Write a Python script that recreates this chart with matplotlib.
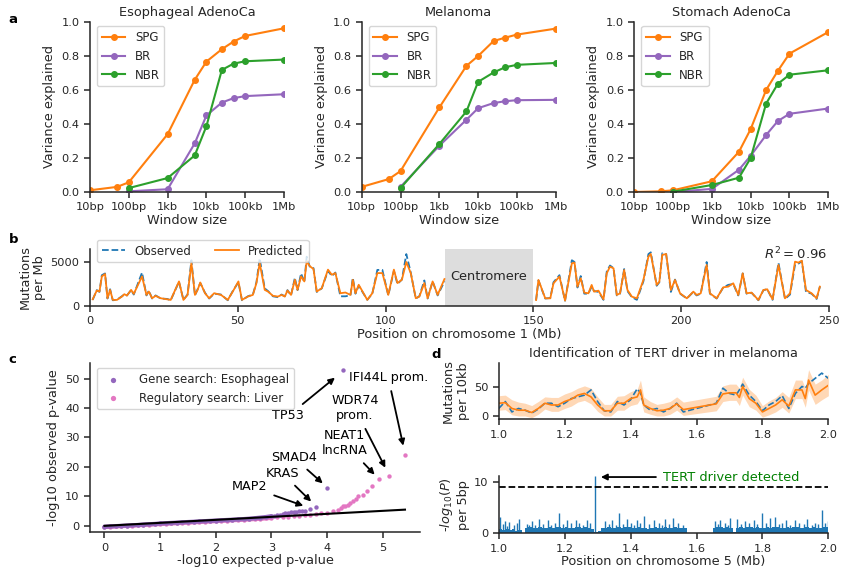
import numpy as np
import matplotlib
matplotlib.use("Agg")
import matplotlib.pyplot as plt

plt.rcParams.update({
    "font.family": ["DejaVu Sans"],
    "axes.edgecolor": "0.15",
    "axes.labelcolor": "0.15",
    "text.color": "0.15",
    "xtick.color": "0.15",
    "ytick.color": "0.15",
    "axes.linewidth": 1.1,
    "xtick.major.width": 1.1,
    "ytick.major.width": 1.1,
    "xtick.major.size": 4,
    "ytick.major.size": 4,
    "xtick.labelsize": 8.2,
    "ytick.labelsize": 8.2,
    "axes.labelsize": 9.3,
    "axes.titlesize": 9.3,
    "legend.fontsize": 8.5,
    "axes.spines.top": False,
    "axes.spines.right": False,
    "legend.edgecolor": "0.8",
})

C_BLUE, C_ORANGE, C_GREEN, C_PURPLE, C_PINK = "#1f77b4", "#ff7f0e", "#2ca02c", "#9467bd", "#e377c2"

# ---------------- panel a data ----------------
windows = [10, 50, 100, 1e3, 5e3, 1e4, 2.5e4, 5e4, 1e5, 1e6]
windows_br = [100, 1e3, 5e3, 1e4, 2.5e4, 5e4, 1e5, 1e6]
window_ticks = [10, 100, 1e3, 1e4, 1e5, 1e6]
window_labels = ["10bp", "100bp", "1kb", "10kb", "100kb", "1Mb"]
titles_a = ["Esophageal AdenoCa", "Melanoma", "Stomach AdenoCa"]
spg = [[0.01, 0.03, 0.057, 0.34, 0.66, 0.767, 0.84, 0.885, 0.918, 0.963],
       [0.03, 0.076, 0.123, 0.497, 0.742, 0.80, 0.888, 0.908, 0.926, 0.961],
       [0.0, 0.004, 0.01, 0.063, 0.237, 0.37, 0.60, 0.712, 0.814, 0.941]]
br = [[0.004, 0.016, 0.286, 0.45, 0.526, 0.552, 0.564, 0.575],
      [0.03, 0.272, 0.425, 0.493, 0.523, 0.534, 0.54, 0.542],
      [0.0, 0.018, 0.131, 0.213, 0.335, 0.417, 0.46, 0.491]]
nbr = [[0.023, 0.082, 0.215, 0.387, 0.718, 0.755, 0.769, 0.779],
       [0.023, 0.282, 0.474, 0.648, 0.703, 0.734, 0.748, 0.759],
       [0.002, 0.041, 0.084, 0.20, 0.52, 0.636, 0.69, 0.716]]

# ---------------- panel b data ----------------
b_pos_left = [0.9, 2.3, 3.2, 4.0, 5.1, 5.9, 6.8, 7.7, 9.1, 10.8, 11.6, 12.5, 13.9, 14.8, 17.6, 19.1, 19.9, 21.0,
              22.2, 23.9, 26.1, 27.3, 30.1, 31.6, 33.0, 34.3, 35.5, 36.4, 37.3, 38.9, 40.3, 42.0, 44.3, 46.6,
              48.3, 50.2, 51.4, 53.4, 55.1, 56.3, 57.4, 59.1, 60.2, 61.9, 63.6, 64.8, 65.9, 66.8, 68.0, 69.3,
              70.2, 71.4, 72.5, 73.3, 74.4, 75.6, 76.7, 78.4, 80.5, 81.8, 83.0, 84.7, 86.4, 88.1, 88.9, 89.8,
              90.9, 93.8, 95.5, 97.2, 98.9, 100.9, 102.8, 104.0, 105.5, 107.0, 108.5, 110.2, 111.4, 113.1,
              114.2, 115.9, 117.6, 119.9]
b_pred_left = [760, 1760, 1640, 3360, 3630, 880, 1830, 690, 690, 1070, 1340, 1180, 1830, 1380, 3360, 1260, 1640,
               880, 1150, 880, 760, 690, 2790, 690, 1260, 4890, 1260, 1830, 2670, 1450, 880, 1450, 1260, 690,
               1640, 2790, 690, 1070, 1260, 2600, 4890, 1830, 1640, 1150, 1070, 1260, 1070, 1760, 1260, 2980,
               1830, 3360, 2790, 5080, 4510, 4200, 1640, 2020, 4130, 3550, 3740, 1450, 1530, 1260, 2980, 1450,
               2410, 690, 1450, 3740, 3740, 1260, 4130, 2600, 2980, 5000, 3740, 880, 1070, 2600, 880, 2790,
               1260, 3060]
b_obs_left = [700, 1800, 1600, 3500, 3700, 850, 1900, 650, 700, 1100, 1300, 1200, 1800, 1300, 3800, 1200, 1750,
              850, 1200, 850, 800, 650, 2750, 700, 1300, 5200, 1200, 1900, 2600, 1500, 850, 1400, 1300, 650,
              1700, 2700, 650, 1100, 1300, 2700, 5400, 2000, 1700, 1100, 1000, 1300, 1100, 1800, 1200, 3200,
              1800, 3700, 2700, 5600, 4400, 4300, 1600, 2000, 4000, 3400, 3800, 1100, 1100, 1200, 3200, 1400,
              2300, 700, 1400, 4100, 4100, 1200, 4000, 2500, 3000, 5900, 3800, 850, 1100, 2900, 850, 2800,
              1200, 2800]
b_pos_right = [150.9, 151.7, 154.0, 155.7, 156.8, 158.8, 160.7, 163.0, 163.9, 164.9, 166.0, 167.2, 168.6, 169.7,
               170.5, 172.0, 173.7, 174.8, 175.9, 177.1, 178.2, 179.3, 180.7, 181.8, 183.3, 185.0, 187.2, 188.9,
               189.7, 191.7, 192.6, 193.6, 194.9, 196.5, 197.9, 199.6, 201.9, 204.1, 205.2, 206.6, 208.6, 209.7,
               212.0, 214.2, 215.9, 217.6, 219.3, 220.8, 222.1, 223.8, 226.1, 227.8, 229.1, 230.9, 232.9, 235.1,
               236.8, 238.5, 239.6, 240.8, 242.2, 244.1, 245.8, 246.9]
b_pred_right = [680, 2960, 870, 870, 2580, 3340, 610, 4850, 4930, 2200, 3150, 1520, 1440, 2390, 1630, 1740, 760,
                3710, 4470, 4280, 1250, 1440, 4090, 1820, 1060, 870, 2960, 5610, 5910, 2390, 2770, 5800, 5910,
                1820, 2960, 1440, 870, 1630, 1250, 1440, 4660, 1440, 870, 2120, 2200, 2580, 1250, 3710, 1440,
                1520, 680, 1820, 1900, 760, 4660, 870, 1440, 5040, 4930, 5150, 1820, 1440, 870, 2200]
b_obs_right = [650, 2900, 850, 900, 2700, 3500, 600, 5200, 5000, 2100, 3400, 1400, 1400, 2200, 1700, 1600, 700,
               3900, 4600, 4300, 1200, 1400, 4200, 1700, 1000, 700, 2800, 5900, 6100, 2300, 2700, 6000, 5900,
               1600, 3000, 1400, 850, 1600, 1200, 1400, 5000, 1400, 850, 2100, 2400, 2500, 1200, 3700, 1400,
               1500, 650, 1800, 1900, 700, 4900, 800, 1300, 4700, 4800, 5100, 1600, 1400, 800, 2200]
centromere = [120.0, 150.0]
r2_value = 0.96

# ---------------- panel c data ----------------
gene_exp = [0.0, 0.1, 0.2, 0.3, 0.4, 0.5, 0.6, 0.7, 0.8, 0.9, 1.0, 1.1, 1.2, 1.3, 1.4, 1.5, 1.6, 1.7, 1.8, 1.9,
            2.0, 2.1, 2.2, 2.3, 2.4, 2.5, 2.6, 2.7, 2.8, 2.9, 3.0, 3.05, 3.1, 3.15, 3.2, 3.25, 3.3, 3.35, 3.4,
            3.45, 3.5, 3.55, 3.6, 3.7, 3.8, 4.0, 4.29]
gene_obs = [-0.3, -0.2, -0.1, 0.0, 0.1, 0.2, 0.3, 0.45, 0.55, 0.65, 0.8, 0.9, 1.0, 1.1, 1.2, 1.3, 1.4, 1.5, 1.6,
            1.7, 1.8, 1.9, 2.0, 2.1, 2.2, 2.3, 2.45, 2.6, 2.8, 3.0, 3.3, 3.45, 3.6, 3.8, 4.0, 4.2, 4.4, 4.6, 4.7,
            4.8, 4.9, 5.0, 5.1, 5.6, 6.4, 12.9, 53.0]
reg_exp = [0.0, 0.1, 0.2, 0.3, 0.4, 0.5, 0.6, 0.7, 0.8, 0.9, 1.0, 1.1, 1.2, 1.3, 1.4, 1.5, 1.6, 1.7, 1.8, 1.9,
           2.0, 2.1, 2.2, 2.3, 2.4, 2.5, 2.6, 2.7, 2.8, 2.9, 3.0, 3.1, 3.2, 3.3, 3.4, 3.5, 3.6, 3.7, 3.8, 3.9,
           4.0, 4.1, 4.2, 4.25, 4.29, 4.33, 4.38, 4.42, 4.47, 4.52, 4.56, 4.64, 4.71, 4.81, 4.93, 5.11, 5.40]
reg_obs = [-0.4, -0.3, -0.2, -0.1, 0.0, 0.1, 0.2, 0.3, 0.4, 0.5, 0.6, 0.7, 0.8, 0.9, 1.0, 1.1, 1.2, 1.3, 1.4,
           1.5, 1.6, 1.7, 1.8, 1.9, 2.0, 2.1, 2.2, 2.3, 2.4, 2.55, 2.7, 2.85, 3.0, 3.1, 3.25, 3.4, 3.6, 3.8, 4.0,
           4.2, 4.4, 5.0, 5.3, 6.0, 6.6, 6.9, 7.2, 7.6, 8.4, 9.0, 10.3, 10.4, 11.9, 13.6, 15.8, 16.9, 24.0]
null_x = [0.0, 5.4]
null_y = [0.0, 5.5]
c_labels = ["TP53", "IFI44L prom.", "WDR74\nprom.", "NEAT1\nlncRNA", "SMAD4", "KRAS", "MAP2"]
c_points = [(4.18, 50.9), (5.38, 26.3), (5.07, 18.9), (4.89, 16.7), (3.96, 13.8), (3.75, 7.6), (3.62, 6.5)]
c_texts = [(3.3, 37.3), (5.1, 50.3), (4.5, 39.9), (4.32, 28.0), (3.4, 23.2), (3.2, 17.8), (2.61, 13.3)]

# ---------------- panel d data ----------------
d_x = [1.00, 1.02, 1.04, 1.06, 1.08, 1.10, 1.12, 1.14, 1.16, 1.18, 1.20, 1.22, 1.24, 1.26, 1.28, 1.30, 1.32,
       1.34, 1.36, 1.38, 1.40, 1.42, 1.43, 1.44, 1.46, 1.48, 1.50, 1.52, 1.54, 1.56, 1.66, 1.68, 1.70, 1.72,
       1.73, 1.74, 1.76, 1.78, 1.80, 1.82, 1.84, 1.86, 1.88, 1.90, 1.92, 1.93, 1.94, 1.96, 1.98, 2.00]
d_pred = [22, 23, 13, 10, 10, 6, 13, 22, 19, 19, 25, 29, 36, 39, 33, 19, 9, 9, 22, 22, 30, 33, 45, 19, 13, 9, 10,
          13, 21, 11, 21, 38, 40, 40, 32, 51, 30, 22, 7, 13, 19, 28, 17, 45, 45, 30, 62, 36, 45, 53]
d_obs = [13, 25, 7, 13, 10, 5, 12, 22, 22, 16, 22, 30, 33, 36, 45, 25, 9, 7, 25, 19, 28, 47, 40, 19, 10, 13, 7,
         13, 22, 7, 22, 48, 39, 36, 45, 55, 36, 25, 9, 19, 25, 35, 13, 39, 51, 48, 56, 65, 74, 65]
d_upper = [35, 36, 28, 24, 22, 18, 25, 33, 32, 32, 38, 42, 48, 52, 48, 33, 20, 20, 34, 35, 42, 46, 62, 33, 25, 20,
           22, 25, 33, 24, 34, 52, 55, 55, 48, 67, 46, 36, 18, 26, 32, 42, 32, 62, 62, 48, 80, 55, 62, 72]
d_lower = [10, 11, 2, 0, 0, -3, 3, 12, 8, 8, 13, 17, 24, 27, 21, 8, 0, 0, 10, 10, 18, 21, 30, 7, 3, 0, 0, 3, 10,
           1, 9, 25, 27, 27, 18, 36, 16, 10, -2, 2, 7, 15, 5, 30, 30, 15, 45, 20, 28, 35]
base_start = 1.0
base_step = 0.01
base_vals = [0.8, 0.6, 0.9, 0.7, 0.8, 0.5, 0.7, 0.0,
             1.1, 1.2, 1.0, 1.1, 1.2, 1.1, 1.0, 1.2, 1.1, 1.3, 1.2, 1.1, 1.2, 1.0, 1.1, 1.2, 1.3, 1.1, 1.2, 1.0, 0.9,
             0.3, 0.5,
             1.0, 1.1, 1.2, 1.0, 1.1, 1.2, 1.1, 1.3, 1.2, 1.0, 1.1, 1.2, 1.1, 1.0, 0.9, 1.1, 1.2, 1.0, 1.1, 1.2,
             1.1, 1.0, 1.2, 1.1, 1.0, 1.1,
             0, 0, 0, 0, 0, 0, 0, 0,
             1.1, 1.3, 1.2, 1.1, 1.2, 1.0,
             0.2,
             1.0, 1.2, 1.1, 1.2, 1.3, 1.1, 1.2, 1.0, 1.1, 1.2, 1.1, 1.3, 1.2, 1.1, 1.0, 1.2, 1.1, 1.2, 1.3, 1.1,
             1.0, 1.2, 1.1, 1.2, 1.0, 1.1, 1.2, 1.3]
spike_pos = [1.004, 1.012, 1.019, 1.026, 1.032, 1.045, 1.055, 1.062, 1.085, 1.093, 1.100, 1.110, 1.123, 1.135,
             1.150, 1.160, 1.172, 1.184, 1.195, 1.206, 1.218, 1.235, 1.245, 1.255, 1.267, 1.278, 1.292, 1.323,
             1.334, 1.343, 1.355, 1.366, 1.377, 1.388, 1.400, 1.410, 1.419, 1.430, 1.442, 1.455, 1.470, 1.485,
             1.495, 1.505, 1.518, 1.530, 1.545, 1.558, 1.655, 1.664, 1.672, 1.685, 1.695, 1.703, 1.723, 1.735,
             1.748, 1.760, 1.773, 1.785, 1.799, 1.810, 1.824, 1.839, 1.850, 1.860, 1.870, 1.885, 1.900, 1.912,
             1.925, 1.936, 1.950, 1.960, 1.970, 1.981, 1.990, 1.998]
spike_val = [3.2, 1.8, 2.4, 1.5, 2.1, 1.6, 1.9, 2.7, 1.8, 1.6, 2.3, 1.7, 2.7, 1.8, 2.5, 1.7, 2.0, 3.9, 1.8, 2.6,
             1.9, 2.5, 2.0, 1.7, 2.5, 1.9, 11.1, 2.3, 1.8, 2.5, 1.7, 4.0, 1.8, 2.7, 1.9, 1.7, 2.5, 2.0, 3.4, 1.8,
             2.6, 1.9, 1.7, 2.7, 1.8, 2.9, 2.0, 1.7, 2.3, 1.8, 2.5, 2.0, 1.7, 2.9, 2.7, 1.8, 2.3, 1.9, 2.5, 1.8,
             3.9, 2.0, 2.9, 3.2, 1.8, 2.0, 2.5, 1.7, 2.6, 1.9, 1.8, 2.7, 1.7, 2.0, 1.8, 4.6, 2.0, 2.3]
threshold = 9.0
tert_pos = 1.31

# ---------------- figure ----------------
fig = plt.figure(figsize=(8.42, 5.70), dpi=100)

a_lefts = [0.1069, 0.4296, 0.7533]
for i in range(3):
    ax = fig.add_axes([a_lefts[i], 0.6632, 0.2304, 0.2982])
    ax.plot(windows, spg[i], "-o", color=C_ORANGE, lw=1.5, ms=4, label="SPG")
    ax.plot(windows_br, br[i], "-o", color=C_PURPLE, lw=1.5, ms=4, label="BR")
    ax.plot(windows_br, nbr[i], "-o", color=C_GREEN, lw=1.5, ms=4, label="NBR")
    ax.set_xscale("log")
    ax.set_xlim(10, 1e6)
    ax.set_ylim(0, 1.0)
    ax.set_xticks(window_ticks)
    ax.set_xticklabels(window_labels)
    ax.minorticks_off()
    ax.set_yticks([0, 0.2, 0.4, 0.6, 0.8, 1.0])
    ax.set_title(titles_a[i], pad=4)
    ax.set_xlabel("Window size", labelpad=1)
    ax.set_ylabel("Variance explained")
    ax.legend(loc="upper left", bbox_to_anchor=(0.036, 0.976), borderaxespad=0, handlelength=2.0)

# panel b
axb = fig.add_axes([0.1069, 0.4632, 0.8777, 0.1])
axb.axvspan(centromere[0], centromere[1], color="#dddddd", lw=0)
axb.text(np.mean(centromere), 3300, "Centromere", ha="center", va="center", fontsize=9.3)
bx = b_pos_left + [np.nan] + b_pos_right
axb.plot(bx, b_obs_left + [np.nan] + b_obs_right, "--", color=C_BLUE, lw=1.3, label="Observed")
axb.plot(bx, b_pred_left + [np.nan] + b_pred_right, "-", color=C_ORANGE, lw=1.3, label="Predicted")
axb.set_xlim(0, 250)
axb.set_ylim(0, 6480)
axb.set_yticks([0, 5000])
axb.set_xticks([0, 50, 100, 150, 200, 250])
axb.set_xlabel("Position on chromosome 1 (Mb)", labelpad=1)
axb.set_ylabel("Mutations\nper Mb", labelpad=3)
axb.text(0.997, 0.91, "$R^2 = %.2f$" % r2_value, transform=axb.transAxes, ha="right", va="center", fontsize=9.5)
axb.legend(loc="upper left", bbox_to_anchor=(0.0095, 1.16), borderaxespad=0, ncol=2, handlelength=2.0)

# panel c
axc = fig.add_axes([0.1069, 0.0661, 0.3919, 0.2976])
nb_r = 31
nb_g = 31
axc.plot(reg_exp[:nb_r], reg_obs[:nb_r], "-", color=C_PINK, lw=3, solid_capstyle="round")
axc.scatter(reg_exp, reg_obs, s=10, color=C_PINK, lw=0, label="Regulatory search: Liver", zorder=2)
axc.plot(gene_exp[:nb_g], gene_obs[:nb_g], "-", color=C_PURPLE, lw=3, solid_capstyle="round")
axc.scatter(gene_exp, gene_obs, s=10, color=C_PURPLE, lw=0, label="Gene search: Esophageal", zorder=3)
axc.plot(null_x, null_y, "-", color="black", lw=1.5, zorder=4)
for lab, pt, tx in zip(c_labels, c_points, c_texts):
    axc.annotate(lab, xy=pt, xytext=tx, ha="center", va="center", fontsize=9.2, color="black",
                 arrowprops=dict(arrowstyle="-|>", color="black", lw=1.3, shrinkA=3, shrinkB=2,
                                 mutation_scale=9))
axc.set_xlim(-0.26, 5.67)
axc.set_ylim(-2.2, 55.4)
axc.set_xticks([0, 1, 2, 3, 4, 5])
axc.set_yticks([0, 10, 20, 30, 40, 50])
axc.set_xlabel("-log10 expected p-value", labelpad=1)
axc.set_ylabel("-log10 observed p-value")
h, l = axc.get_legend_handles_labels()
axc.legend(h[::-1], l[::-1], loc="upper left", bbox_to_anchor=(0.021, 0.969), borderaxespad=0,
           markerscale=1.2, handletextpad=1.2)

# panel d top
axd1 = fig.add_axes([0.5923, 0.2644, 0.3915, 0.0993])
axd1.fill_between(d_x, d_lower, d_upper, color=C_ORANGE, alpha=0.3, lw=0)
axd1.plot(d_x, d_obs, "--", color=C_BLUE, lw=1.2)
axd1.plot(d_x, d_pred, "-", color=C_ORANGE, lw=1.2)
axd1.set_xlim(1.0, 2.0)
axd1.set_ylim(-5.7, 92)
axd1.set_yticks([0, 50])
axd1.set_xticks([1.0, 1.2, 1.4, 1.6, 1.8, 2.0])
axd1.set_ylabel("Mutations\nper 10kb", labelpad=3)
axd1.set_title("Identification of TERT driver in melanoma", pad=4)

# panel d bottom
axd2 = fig.add_axes([0.5923, 0.0644, 0.3915, 0.1005])
base_edges = [base_start + base_step * k for k in range(len(base_vals))]
axd2.bar(base_edges, base_vals, width=base_step, align="edge", color=C_BLUE, lw=0)
axd2.vlines(spike_pos, 0, spike_val, color=C_BLUE, lw=1.0)
axd2.axhline(threshold, color="black", ls="--", lw=1.3)
axd2.annotate("TERT driver detected", xy=(tert_pos, 10.9), xytext=(1.498, 10.9), ha="left", va="center",
              color="green", fontsize=9.3, annotation_clip=False,
              arrowprops=dict(arrowstyle="-|>", color="black", lw=1.3, mutation_scale=9, shrinkA=3, shrinkB=0))
axd2.set_xlim(1.0, 2.0)
axd2.set_ylim(0, 11.1)
axd2.set_yticks([0, 10])
axd2.set_xticks([1.0, 1.2, 1.4, 1.6, 1.8, 2.0])
axd2.set_xlabel("Position on chromosome 5 (Mb)", labelpad=1)
axd2.set_ylabel("-$log_{10}(P)$\nper 5bp", labelpad=3)

for lab, x, y in [("a", 0.010, 0.966), ("b", 0.010, 0.580), ("c", 0.010, 0.370), ("d", 0.512, 0.378)]:
    fig.text(x, y, lab, fontsize=9.5, fontweight="bold", color="black", va="center")

fig.savefig("out.png", dpi=100)
